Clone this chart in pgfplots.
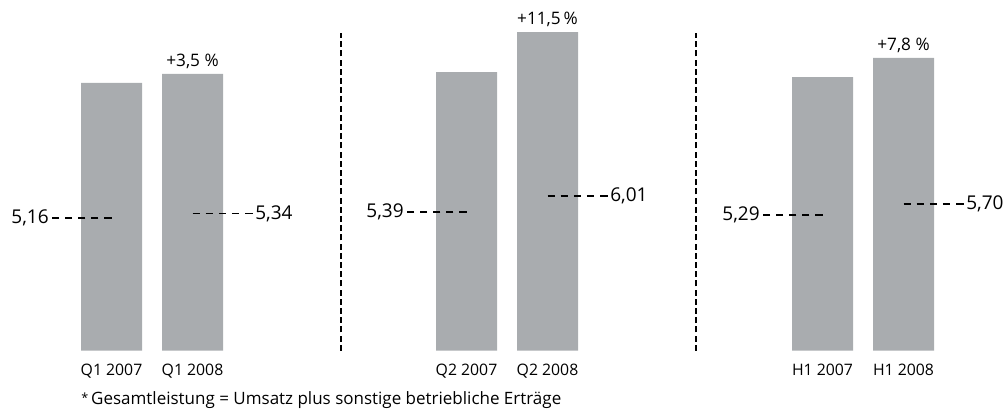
\documentclass[border=0pt]{standalone}
\usepackage{fontspec}
\setmainfont{Open Sans}
\usepackage{pgfplots}
\pgfplotsset{compat=1.18}
\definecolor{bargray}{RGB}{169,172,175}
\begin{document}
\begin{tikzpicture}
\begin{axis}[
  scale only axis,
  width=504pt, height=204.5pt,
  xmin=0, xmax=1008, ymin=-2.268, ymax=13.646,
  axis x line=middle, axis y line=none,
  x axis line style={draw=none},
  major tick length=0pt,
  xtick={111.5,192.5,466.5,547.5,822.5,903.5},
  xticklabels={Q1 2007,Q1 2008,Q2 2007,Q2 2008,H1 2007,H1 2008},
  xticklabel style={font=\fontsize{7.9}{9}\selectfont, yshift=-3pt},
  ytick=\empty,
  clip=false,
]
\path (axis cs:0,-2.268) rectangle (axis cs:1008,13.646);
\addplot[ybar, bar width=61, bar shift=0pt, fill=bargray, draw=none]
  coordinates {(111.5,10.42) (192.5,10.77) (466.5,10.84) (547.5,12.40) (822.5,10.65) (903.5,11.39)};
% separators
\addplot[black, line width=0.9pt, dash pattern=on 3pt off 1.6pt] coordinates {(341,0) (341,12.36)};
\addplot[black, line width=0.9pt, dash pattern=on 3pt off 1.6pt] coordinates {(695.7,0) (695.7,12.36)};
% value lines
\tikzset{vl/.style={black, line width=0.85pt, dash pattern=on 3.75pt off 2.8125pt}}
\addplot[vl] coordinates {(111.5,5.16) (51.5,5.16)} node[anchor=east, inner sep=1pt, font=\fontsize{9.5}{11}\selectfont] {5,16};
\addplot[vl] coordinates {(192.5,5.34) (252.5,5.34)} node[anchor=west, inner sep=1pt, font=\fontsize{9.5}{11}\selectfont] {5,34};
\addplot[vl] coordinates {(466.5,5.39) (406.5,5.39)} node[anchor=east, inner sep=1pt, font=\fontsize{9.5}{11}\selectfont] {5,39};
\addplot[vl] coordinates {(547.5,6.01) (607.5,6.01)} node[anchor=west, inner sep=1pt, font=\fontsize{9.5}{11}\selectfont] {6,01};
\addplot[vl] coordinates {(822.5,5.29) (762.5,5.29)} node[anchor=east, inner sep=1pt, font=\fontsize{9.5}{11}\selectfont] {5,29};
\addplot[vl] coordinates {(903.5,5.70) (963.5,5.70)} node[anchor=west, inner sep=1pt, font=\fontsize{9.5}{11}\selectfont] {5,70};
% growth labels
\node[anchor=south, inner sep=0pt, yshift=2.5pt, font=\fontsize{8.6}{10}\selectfont] at (axis cs:192.5,10.77) {+3,5 \%};
\node[anchor=south, inner sep=0pt, yshift=2.5pt, font=\fontsize{8.6}{10}\selectfont] at (axis cs:547.5,12.40) {+11,5\,\%};
\node[anchor=south, inner sep=0pt, yshift=2.5pt, font=\fontsize{8.6}{10}\selectfont] at (axis cs:903.5,11.39) {+7,8 \%};
% footnote
\node[anchor=west, inner sep=0pt, font=\fontsize{8.5}{10}\selectfont] at (axis cs:81,-1.92) {\raisebox{0.25ex}{\fontsize{6.3}{7}\selectfont *}\,Gesamtleistung = Umsatz plus sonstige betriebliche Erträge};
\end{axis}
\end{tikzpicture}
\end{document}
